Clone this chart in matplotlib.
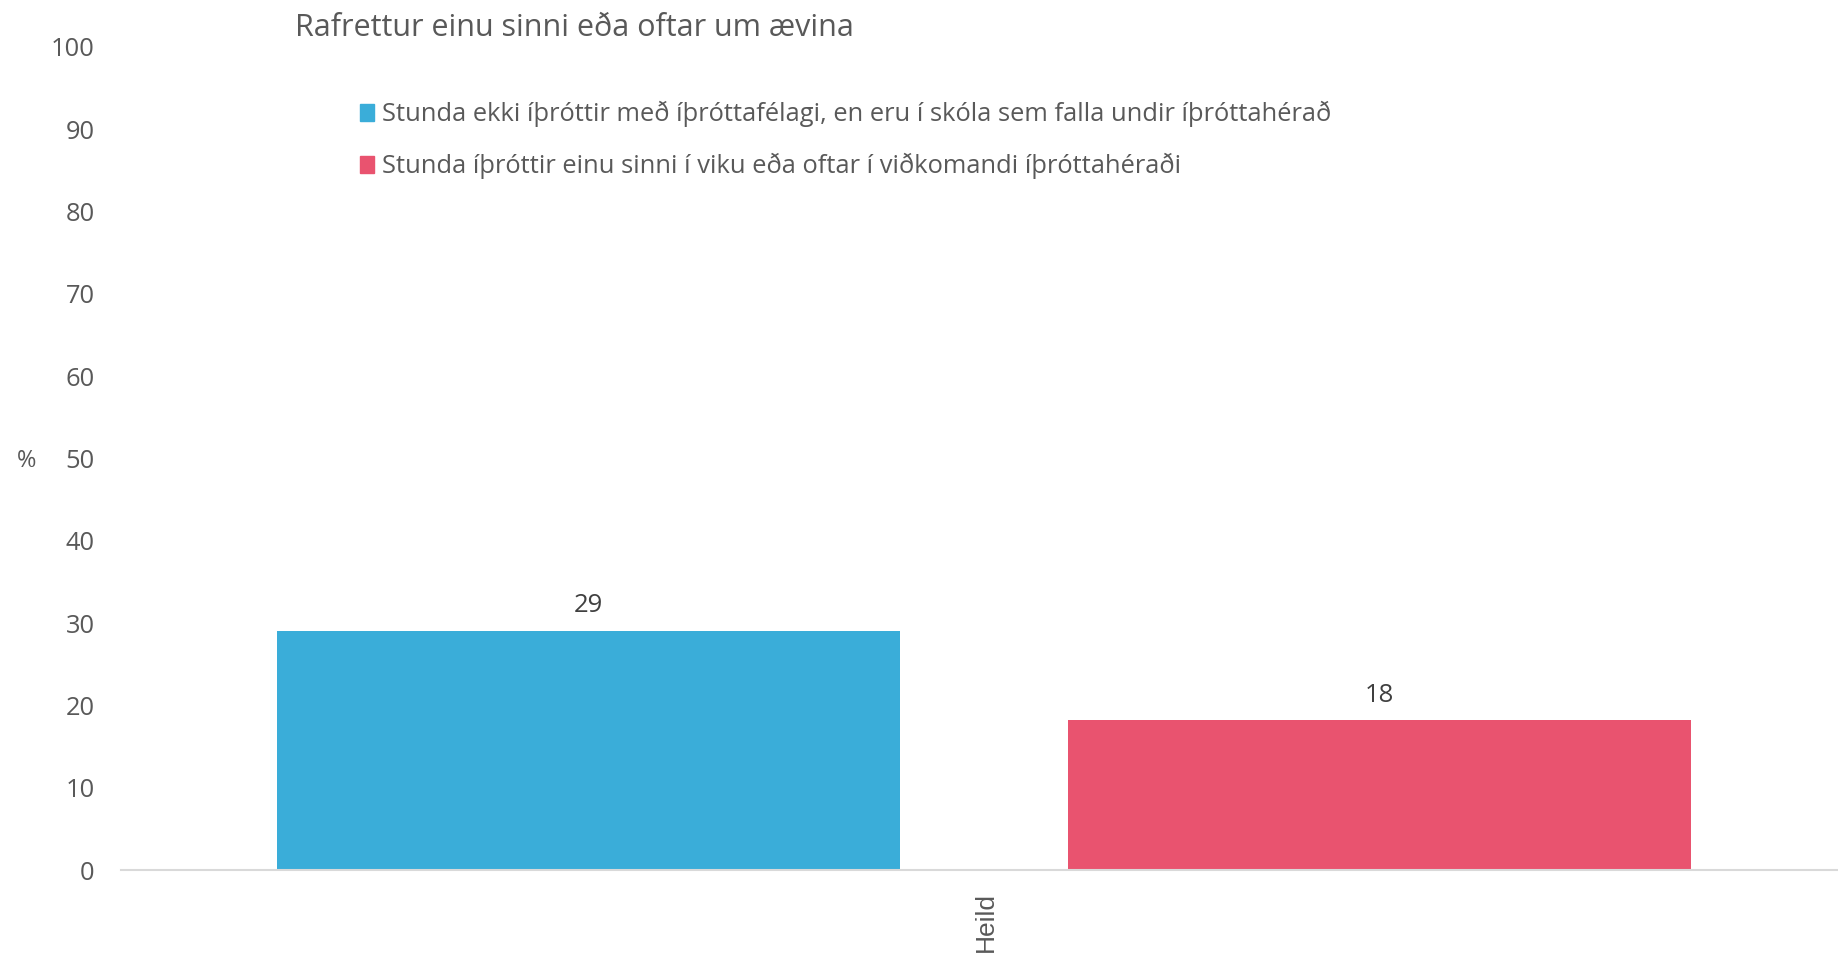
import matplotlib.pyplot as plt
from matplotlib.patches import Patch

# Gögn
flokkar = ['Heild']
hopar = ['Stunda ekki íþróttir með íþróttafélagi, en eru í skóla sem falla undir íþróttahérað',
         'Stunda íþróttir einu sinni í viku eða oftar í viðkomandi íþróttahéraði']
gildi = [29.1, 18.2]
merki = ['29', '18']
litir = ['#3AADD9', '#E9536F']
yticks = [0, 10, 20, 30, 40, 50, 60, 70, 80, 90, 100]

plt.rcParams['font.family'] = ['Open Sans', 'DejaVu Sans']
grar = '#595959'

fig = plt.figure(figsize=(18.38, 9.58), dpi=100)
ax = fig.add_axes([121 / 1838, 1 - 870 / 958, 1 - 121 / 1838, (870 - 47) / 958])

breidd = 0.363
stadir = [-0.2276, 0.2331]
for x, v, m, c in zip(stadir, gildi, merki, litir):
    ax.bar(x, v, width=breidd, color=c)
    ax.text(x, v + 3.0, m, ha='center', va='center', fontsize=18.5, color='#404040')

ax.set_xlim(-0.5, 0.5)
ax.set_ylim(0, 100)
ax.set_yticks(yticks)
ax.set_xticks([0.004])
ax.set_xticklabels(flokkar, rotation=90, fontsize=19, color=grar, family=['Liberation Sans', 'DejaVu Sans'])
ax.tick_params(axis='y', length=0, pad=19, labelsize=18.4, labelcolor=grar)
ax.tick_params(axis='x', length=0, pad=16)
for s in ['top', 'right', 'left']:
    ax.spines[s].set_visible(False)
ax.spines['bottom'].set_color('#D9D9D9')
ax.spines['bottom'].set_linewidth(1.5)

ax.set_ylabel('%', rotation=0, fontsize=17, color=grar, va='center', ha='center')
ax.yaxis.set_label_coords(-0.055, 0.497)

fig.text(295 / 1838, 1 - 28 / 958, 'Rafrettur einu sinni eða oftar um ævina',
         ha='left', va='center', fontsize=22, color=grar)

handles = [Patch(color=c) for c in litir]
fig.legend(handles, hopar, loc='upper left', bbox_to_anchor=(360 / 1838, 1 - 101 / 958),
           frameon=False, fontsize=18.4, labelcolor=grar, handlelength=0.565, handleheight=0.65,
           handletextpad=0.28, labelspacing=1.0, borderpad=0, borderaxespad=0)

fig.savefig('out.png', dpi=100)
